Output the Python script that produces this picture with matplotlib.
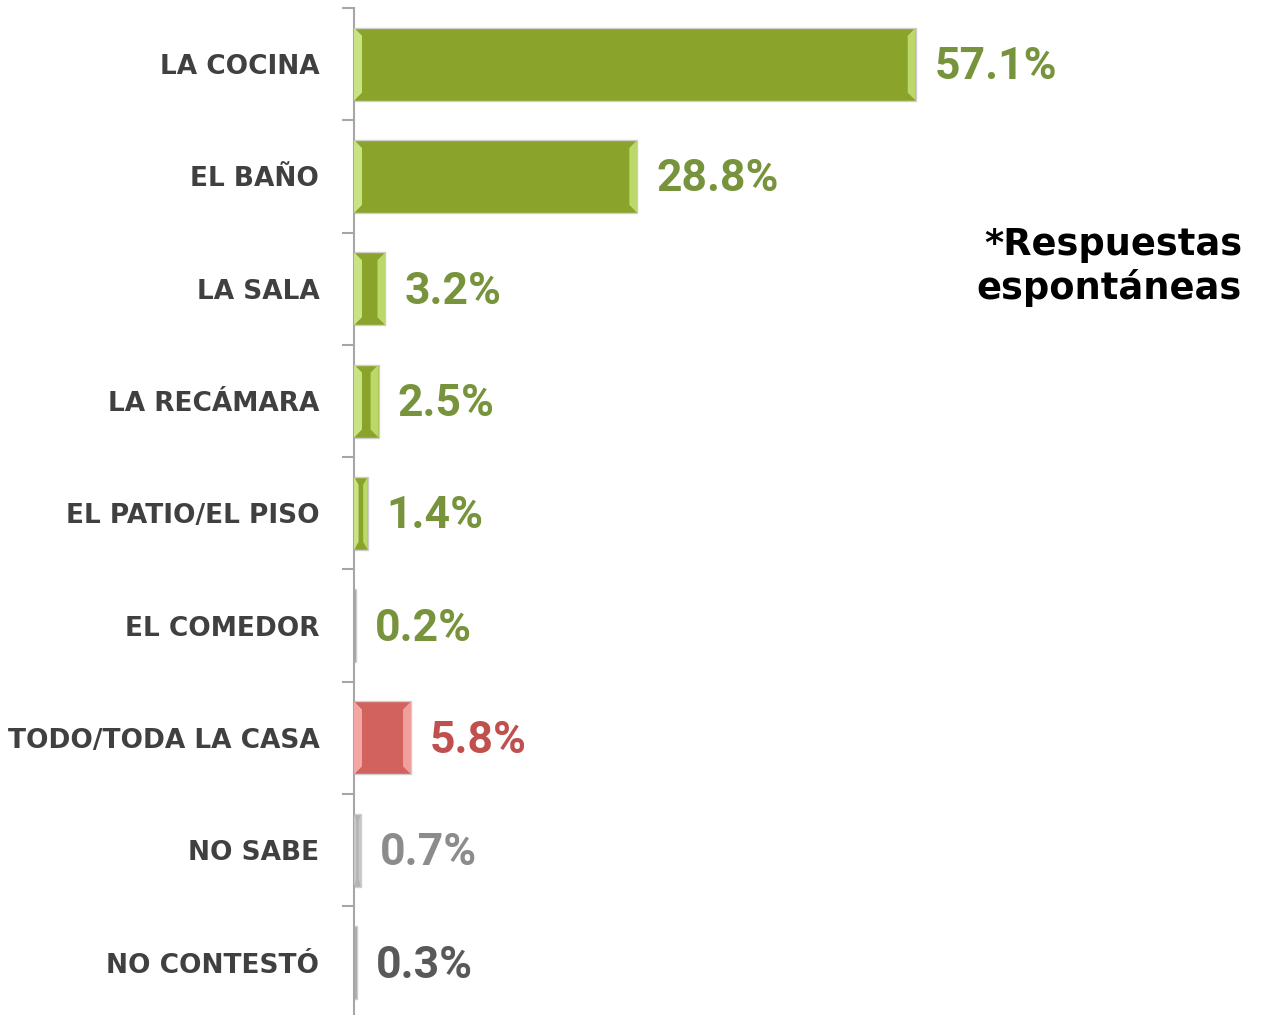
import matplotlib

matplotlib.use("Agg")
import matplotlib.pyplot as plt
from matplotlib.patches import Polygon
import numpy as np

# data
categories = [
    "LA COCINA",
    "EL BAÑO",
    "LA SALA",
    "LA RECÁMARA",
    "EL PATIO/EL PISO",
    "EL COMEDOR",
    "TODO/TODA LA CASA",
    "NO SABE",
    "NO CONTESTÓ",
]
values = [57.1, 28.8, 3.2, 2.5, 1.4, 0.2, 5.8, 0.7, 0.3]
groups = ["room", "room", "room", "room", "room", "room", "all", "dk", "na"]
note = "*Respuestas\nespontáneas"

# fill, left bevel, right bevel, label colour
STYLES = {
    "room": ("#8aa42b", "#c9e283", "#bdd86a", "#77933c"),
    "all": ("#d1625d", "#f3a6a2", "#f0a09c", "#c0504d"),
    "dk": ("#b3b3b3", "#c8c8c8", "#c8c8c8", "#8c8c8c"),
    "na": ("#a6a6a6", "#bdbdbd", "#bdbdbd", "#595959"),
}

W, H, DPI = 1264, 1015, 100
AX_LEFT, AX_TOP, ROW_PX = 354, 8, 112.3
XMAX = 92.5
BAR_H = 0.65
BEVEL_PX = 8

fig = plt.figure(figsize=(W / DPI, H / DPI), dpi=DPI)
fig.patch.set_facecolor("white")

n = len(categories)
ax_h_px = n * ROW_PX
ax = fig.add_axes([
    AX_LEFT / W,
    (H - AX_TOP - ax_h_px) / H,
    (W - AX_LEFT) / W,
    ax_h_px / H,
])
ax.set_facecolor("none")

y = np.arange(n)
fills = [STYLES[g][0] for g in groups]
ax.barh(y, values, height=BAR_H, color=fills, edgecolor="#cfcfcf",
        linewidth=1.0, zorder=2)

ax.set_xlim(0, XMAX)
ax.set_ylim(n - 0.5, -0.5)

# bevel strips on both ends of each bar
px_x = (W - AX_LEFT) / XMAX
bx_full = BEVEL_PX / px_x
by = BEVEL_PX / ROW_PX
for yi, v, g in zip(y, values, groups):
    if v * px_x < 4:
        continue
    _, left_c, right_c, _ = STYLES[g]
    bx = min(bx_full, v / 3)
    top, bot = yi - BAR_H / 2, yi + BAR_H / 2
    ax.add_patch(Polygon([(0, top), (bx, top + by), (bx, bot - by), (0, bot)],
                         closed=True, facecolor=left_c, edgecolor="none", zorder=3))
    ax.add_patch(Polygon([(v, top), (v - bx, top + by), (v - bx, bot - by), (v, bot)],
                         closed=True, facecolor=right_c, edgecolor="none", zorder=3))

# value labels
for yi, v, g in zip(y, values, groups):
    ax.annotate(f"{v:.1f}%", xy=(v, yi), xytext=(19, -3), textcoords="offset pixels",
                ha="left", va="center", fontsize=32, fontweight="bold",
                family="Roboto", color=STYLES[g][3], zorder=4)

# axes styling
for side in ("top", "right", "bottom"):
    ax.spines[side].set_visible(False)
ax.spines["left"].set_color("#a6a6a6")
ax.spines["left"].set_linewidth(1.5)
ax.set_xticks([])
ax.set_yticks(y)
ax.set_yticklabels(categories, fontsize=19, fontweight="bold",
                   family="DejaVu Sans", color="#404040")
ax.tick_params(axis="y", which="major", length=0, pad=25)
ax.set_yticks(np.arange(-0.5, n, 1.0), minor=True)
ax.tick_params(axis="y", which="minor", length=9, width=1.5, color="#a6a6a6",
               direction="out")

fig.text(1242 / W, 1 - 266 / H, note, fontsize=26.5, fontweight="bold",
         family="DejaVu Sans", color="black", ha="right", va="center",
         linespacing=1.2)

fig.savefig("out.png", dpi=DPI, facecolor="white")
plt.close(fig)
